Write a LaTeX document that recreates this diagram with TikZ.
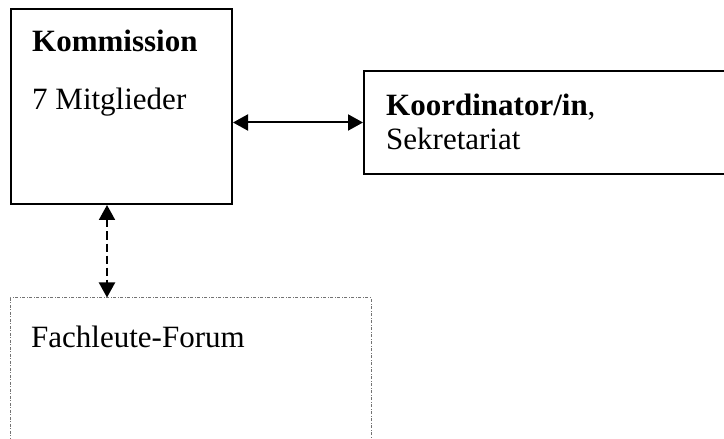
\documentclass[tikz,border=0pt]{standalone}
\usepackage{fontspec}
\setmainfont{Liberation Serif}
\usetikzlibrary{arrows.meta}

\tikzset{
  box/.style={draw=black, line width=2bp, rectangle, inner sep=0pt},
  forumbox/.style={draw=black!55, line width=1bp, rectangle, inner sep=0pt,
    dash pattern=on 3bp off 1.5bp on 1bp off 1.5bp},
  label/.style={anchor=base west, inner sep=0pt, font=\fontsize{31bp}{34bp}\selectfont, align=left},
  link/.style={line width=2bp, {Triangle[length=15bp,width=16bp]}-{Triangle[length=15bp,width=16bp]}},
  dashedlink/.style={link, dash pattern=on 8bp off 4bp}
}

\begin{document}
\begin{tikzpicture}[x=1bp, y=-1bp]
  \clip (0,0) rectangle (724,439);

  % the three boxes
  \node[box, minimum width=221bp, minimum height=195bp] (komm) at (121.5,106.5) {};
  \node[box, minimum width=376bp, minimum height=103bp] (koord) at (552,122.5) {};
  \node[forumbox, minimum width=360bp, minimum height=162bp] (forum) at (191,379) {};

  % their texts
  \node[label] (kommtitle) at (32,52) {\textbf{Kommission}};
  \node[label] (kommsub) at (32,110) {7 Mitglieder};
  \node[label] (koordtitle) at (386,116) {\textbf{Koordinator/in},};
  \node[label] (koordsub) at (386,150) {Sekretariat};
  \node[label] (forumtitle) at (31,348) {Fachleute-Forum};

  % connectors
  \draw[link] (komm.east |- koord.west) -- (koord.west);
  \coordinate (vx) at (107,0);
  \draw[dashedlink] (komm.south -| vx) -- (forum.north -| vx);
\end{tikzpicture}
\end{document}
